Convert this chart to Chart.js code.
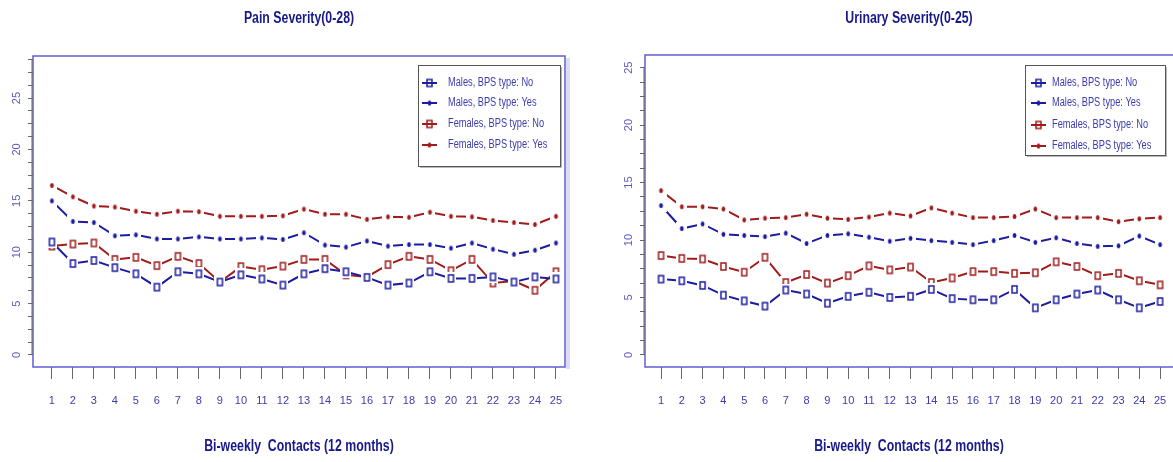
<!DOCTYPE html>
<html>
<head>
<meta charset="utf-8">
<script src="https://cdn.jsdelivr.net/npm/chart.js@4"></script>
<style>
  html, body { margin: 0; padding: 0; background: #fff; }
  #wrap { position: relative; width: 1173px; height: 462px; }
  canvas { position: absolute; top: 0; }
</style>
</head>
<body>
<div id="wrap">
  <canvas id="pain" width="586" height="462" style="left:0"></canvas>
  <canvas id="urin" width="587" height="462" style="left:586px"></canvas>
</div>
<script>
// bi-weekly contacts 1..25
const contacts = ['1','2','3','4','5','6','7','8','9','10','11','12','13','14','15','16','17','18','19','20','21','22','23','24','25'];
const seriesNames = ['Males, BPS type: No', 'Males, BPS type: Yes', 'Females, BPS type: No', 'Females, BPS type: Yes'];
const yLabels = [0, 5, 10, 15, 20, 25];
const xTitle = 'Bi-weekly  Contacts (12 months)';

// Pain Severity (0-28)
const painMalesNo    = [11.0, 8.9, 9.2, 8.5, 7.9, 6.6, 8.1, 7.9, 7.1, 7.8, 7.4, 6.8, 7.9, 8.4, 8.1, 7.55, 6.8, 7.0, 8.1, 7.45, 7.45, 7.6, 7.1, 7.6, 7.4];
const painMalesYes   = [15.0, 13.0, 12.9, 11.6, 11.7, 11.3, 11.3, 11.5, 11.3, 11.3, 11.4, 11.25, 11.9, 10.7, 10.5, 11.1, 10.6, 10.75, 10.75, 10.4, 10.9, 10.3, 9.8, 10.2, 10.9];
const painFemalesNo  = [10.6, 10.8, 10.9, 9.3, 9.5, 8.7, 9.6, 8.9, 7.1, 8.6, 8.3, 8.65, 9.3, 9.3, 7.8, 7.6, 8.8, 9.6, 9.3, 8.2, 9.3, 7.0, 7.2, 6.3, 8.1];
const painFemalesYes = [16.5, 15.4, 14.5, 14.4, 14.0, 13.7, 14.0, 13.95, 13.5, 13.5, 13.5, 13.55, 14.2, 13.7, 13.7, 13.2, 13.45, 13.4, 13.9, 13.5, 13.45, 13.1, 12.9, 12.7, 13.5];

// Urinary Severity (0-25)
const urinMalesNo    = [6.6, 6.45, 6.05, 5.2, 4.7, 4.25, 5.65, 5.3, 4.5, 5.1, 5.45, 5.0, 5.1, 5.7, 4.9, 4.8, 4.8, 5.7, 4.1, 4.8, 5.3, 5.65, 4.8, 4.1, 4.65];
const urinMalesYes   = [13.0, 11.0, 11.4, 10.5, 10.4, 10.3, 10.6, 9.7, 10.4, 10.55, 10.25, 9.9, 10.15, 9.95, 9.8, 9.6, 9.95, 10.4, 9.8, 10.2, 9.7, 9.45, 9.5, 10.35, 9.6];
const urinFemalesNo  = [8.65, 8.4, 8.35, 7.7, 7.2, 8.5, 6.3, 7.0, 6.25, 6.9, 7.75, 7.4, 7.65, 6.3, 6.7, 7.25, 7.25, 7.1, 7.15, 8.1, 7.7, 6.9, 7.1, 6.45, 6.1];
const urinFemalesYes = [14.3, 12.9, 12.9, 12.7, 11.75, 11.9, 11.95, 12.25, 11.9, 11.8, 12.0, 12.35, 12.1, 12.8, 12.35, 11.95, 11.95, 12.05, 12.7, 11.95, 11.95, 11.95, 11.6, 11.85, 11.95];

const sans = '"Liberation Sans", Arial, sans-serif';
const squeeze = 0.77; // the source text is a narrow face
const navy = '#18188a';
const blue = '#1c1ca3';
const red = '#a11b1b';
const labelBlue = '#3b3bb0';
const styles = [
  { color: blue, open: true },
  { color: blue, open: false },
  { color: red, open: true },
  { color: red, open: false }
];

// R style "b" markers: white patch around the symbol leaves a gap in the line
function marker(color, open, gap) {
  const c = document.createElement('canvas');
  c.width = 11; c.height = 13;
  const g = c.getContext('2d');
  if (gap) { g.fillStyle = '#fff'; g.fillRect(0, 0, 11, 13); }
  if (open) {
    g.strokeStyle = color; g.lineWidth = 1.5;
    g.strokeRect(3, 3, 5, 7);
  } else {
    g.fillStyle = color;
    g.beginPath(); g.ellipse(5.5, 6.5, 1.9, 2.6, 0, 0, Math.PI * 2); g.fill();
  }
  return c;
}

function narrowText(ctx, text, x, y, font, align) {
  ctx.save();
  ctx.font = font;
  ctx.textAlign = align; ctx.textBaseline = 'middle';
  ctx.translate(x, y);
  ctx.scale(squeeze, 1);
  ctx.fillText(text, 0, 0);
  ctx.restore();
}

const framePlugin = {
  id: 'frame',
  afterDatasetsDraw(chart, args, o) {
    const { ctx, chartArea: a, scales: { y } } = chart;
    ctx.save();
    // plot box
    ctx.strokeStyle = '#5f5fd2'; ctx.lineWidth = 1.5;
    ctx.beginPath();
    if (o.openRight) {
      ctx.moveTo(chart.width, a.top); ctx.lineTo(a.left, a.top);
      ctx.lineTo(a.left, a.bottom); ctx.lineTo(chart.width, a.bottom);
    } else {
      ctx.fillStyle = '#dcdcf2';
      ctx.fillRect(a.right + 1, a.top + 2, 4, a.height);
      ctx.rect(a.left, a.top, a.width, a.height);
    }
    ctx.stroke();
    // y axis line
    ctx.strokeStyle = '#666'; ctx.lineWidth = 1;
    ctx.beginPath();
    ctx.moveTo(a.left - 1, y.getPixelForValue(0));
    ctx.lineTo(a.left - 1, y.getPixelForValue(o.yTop));
    ctx.stroke();
    // titles
    const cx = (a.left + a.right) / 2;
    ctx.fillStyle = navy;
    narrowText(ctx, o.title, cx, 19, 'bold 16px ' + sans, 'center');
    narrowText(ctx, xTitle, cx, 447, 'bold 16px ' + sans, 'center');
    // legend box
    const L = o.legend;
    const lx = a.right - L.right - L.width, ly = a.top + L.top;
    ctx.fillStyle = '#b8b8b8'; ctx.fillRect(lx + 2, ly + 2, L.width, L.height);
    ctx.fillStyle = '#fff'; ctx.fillRect(lx, ly, L.width, L.height);
    ctx.strokeStyle = '#555'; ctx.strokeRect(lx + 0.5, ly + 0.5, L.width, L.height);
    chart.data.datasets.forEach((ds, i) => {
      const yy = ly + L.rows[i];
      ctx.strokeStyle = ds.borderColor; ctx.lineWidth = 2;
      ctx.beginPath(); ctx.moveTo(lx + L.symX, yy); ctx.lineTo(lx + L.symX + 15, yy); ctx.stroke();
      ctx.drawImage(marker(styles[i].color, styles[i].open, false), lx + L.symX + 2, yy - 6.5);
      ctx.fillStyle = labelBlue;
      narrowText(ctx, ds.label, lx + L.textX, yy, '12px ' + sans, 'left');
    });
    ctx.restore();
  }
};

function makeChart(id, title, series, o) {
  return new Chart(document.getElementById(id), {
    type: 'line',
    data: {
      datasets: series.map((vals, i) => ({
        label: seriesNames[i],
        data: vals.map((v, j) => ({ x: Number(contacts[j]), y: v })),
        borderColor: styles[i].color,
        backgroundColor: styles[i].color,
        borderWidth: 2,
        pointStyle: marker(styles[i].color, styles[i].open, true),
        pointRadius: 5,
        tension: 0
      }))
    },
    options: {
      responsive: false,
      animation: false,
      layout: { autoPadding: false, padding: { left: 0, right: o.padRight, top: o.padTop, bottom: 0 } },
      plugins: {
        legend: { display: false },
        tooltip: { enabled: false },
        title: { display: false },
        frame: { legend: o.legend, yTop: o.yTop, title: title, openRight: o.openRight }
      },
      scales: {
        x: {
          type: 'linear', min: o.xMin, max: o.xMax,
          afterBuildTicks: s => { s.ticks = contacts.map(c => ({ value: Number(c) })); },
          afterFit: s => { s.height = 95; s.paddingLeft = 0; s.paddingRight = 0; },
          border: { display: false },
          grid: { drawOnChartArea: false, tickLength: 12, tickColor: '#666' },
          ticks: {
            autoSkip: false, maxRotation: 0, padding: 15, color: labelBlue,
            font: { family: sans, size: 11 },
            callback: (v, i) => contacts[i]
          }
        },
        y: {
          min: o.yMin, max: o.yMax,
          afterBuildTicks: s => {
            const t = [];
            for (let v = 0; v <= o.yTop + 0.01; v += 1.25) t.push({ value: v });
            s.ticks = t;
          },
          afterFit: s => { s.width = o.yWidth; },
          border: { display: false },
          grid: { drawOnChartArea: false, tickLength: 5, tickColor: '#666' },
          ticks: {
            autoSkip: false, minRotation: 90, maxRotation: 90, crossAlign: 'center',
            padding: 5, color: '#5a5abb', font: { family: sans, size: 11 },
            callback: v => (yLabels.includes(v) ? String(v) : '')
          }
        }
      }
    },
    plugins: [framePlugin]
  });
}

makeChart('pain', 'Pain Severity(0-28)',
  [painMalesNo, painMalesYes, painFemalesNo, painFemalesYes],
  { xMin: 0.1, xMax: 25.43, yMin: -1.17, yMax: 29.1, yTop: 28.75, yWidth: 33, padRight: 21, padTop: 56, openRight: false,
    legend: { right: 5, top: 9, width: 142, height: 101, rows: [18, 38, 59, 80], symX: 4, textX: 30 } });

makeChart('urin', 'Urinary Severity(0-25)',
  [urinMalesNo, urinMalesYes, urinFemalesNo, urinFemalesYes],
  { xMin: 0.23, xMax: 25.62, yMin: -1.05, yMax: 26.1, yTop: 25, yWidth: 59, padRight: 0, padTop: 55, openRight: true,
    legend: { right: 8, top: 10, width: 140, height: 90, rows: [18, 38, 60, 81], symX: 6, textX: 27 } });
</script>
</body>
</html>
